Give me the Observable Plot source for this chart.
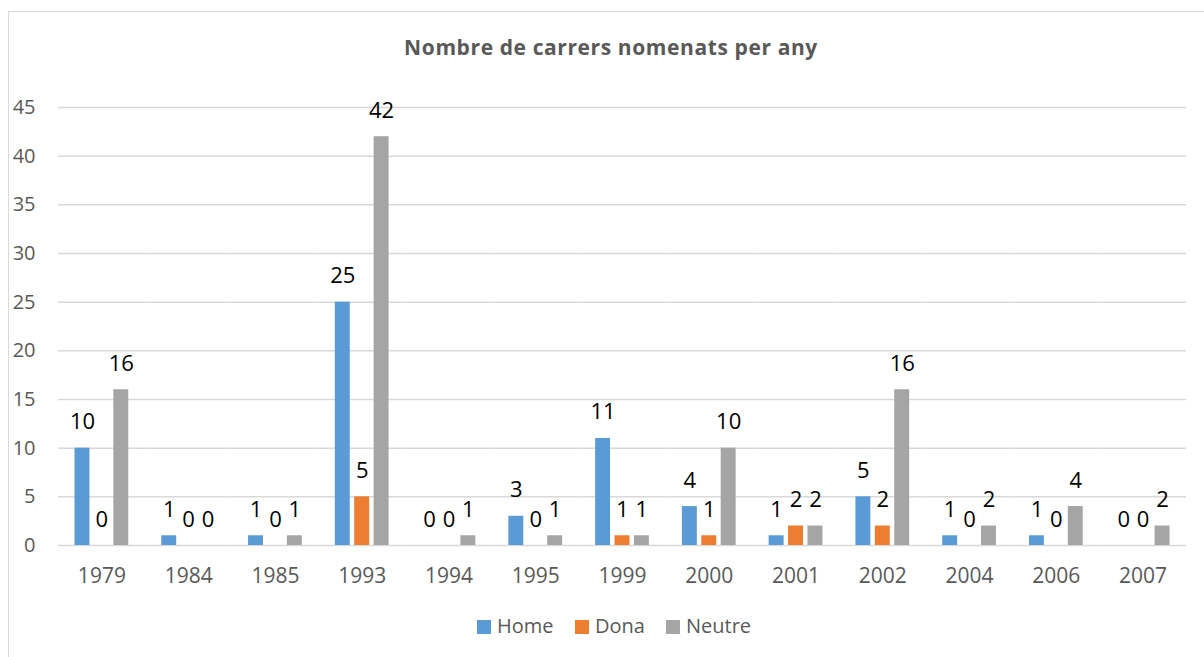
<!DOCTYPE html>
<html>
<head>
<meta charset="utf-8">
<script src="https://cdn.jsdelivr.net/npm/d3@7"></script>
<script src="https://cdn.jsdelivr.net/npm/@observablehq/plot@0.6"></script>
<style>
  body { margin: 0; background: #fff; font-family: "Open Sans", sans-serif; overflow: hidden; }
  #frame { position: absolute; left: 8px; top: 11px; width: 1220px; height: 700px; border: 1.5px solid #d9d9d9; box-sizing: border-box; }
  #title { position: absolute; left: 0; width: 1222px; top: 33px; text-align: center; font-weight: 700; font-size: 21px; letter-spacing: 0.6px; color: #595959; }
  #chart { position: absolute; left: 0; top: 0; }
  #legend { position: absolute; top: 613px; left: 0; width: 1204px; height: 26px; }
  .li { position: absolute; top: 0; font-size: 20px; color: #595959; line-height: 26px; }
  .sw { display: inline-block; width: 14px; height: 14px; margin-right: 6px; vertical-align: -1px; }
</style>
</head>
<body>
<div id="frame"></div>
<div id="title">Nombre de carrers nomenats per any</div>
<div id="chart"></div>
<div id="legend"></div>
<script>
const years = ["1979","1984","1985","1993","1994","1995","1999","2000","2001","2002","2004","2006","2007"];
const home   = [10, 1, 1, 25, 0, 3, 11, 4, 1, 5, 1, 1, 0];
const dona   = [0, 0, 0, 5, 0, 0, 1, 1, 2, 2, 0, 0, 0];
const neutre = [16, 0, 1, 42, 1, 1, 1, 10, 2, 16, 2, 4, 2];
const series = ["Home", "Dona", "Neutre"];
const colors = ["#5B9BD5", "#ED7D31", "#A5A5A5"];
const yTicks = [0, 5, 10, 15, 20, 25, 30, 35, 40, 45];

const rows = [];
years.forEach((yr, i) => {
  rows.push({year: yr, serie: "Home", value: home[i]});
  rows.push({year: yr, serie: "Dona", value: dona[i]});
  rows.push({year: yr, serie: "Neutre", value: neutre[i]});
});

const chart = Plot.plot({
  width: 1204,
  height: 600,
  marginLeft: 58,
  marginRight: 18,
  marginTop: 107,
  marginBottom: 55,
  style: {fontFamily: "Open Sans", fontSize: "20px", color: "#595959", background: "transparent"},
  fx: {domain: years, padding: 0, round: false, axis: null},
  x: {domain: series, paddingInner: 0.23, paddingOuter: 0.85, round: false, axis: null},
  y: {domain: [0, 45], axis: null},
  color: {domain: series, range: colors},
  marks: [
    Plot.gridY(yTicks, {stroke: "#d9d9d9", strokeOpacity: 1, strokeWidth: 1.5}),
    Plot.axisY({ticks: yTicks, tickSize: 0, tickPadding: 23, label: null, fontSize: 20, anchor: "left"}),
    Plot.axisFx({anchor: "bottom", tickSize: 0, tickPadding: 23, label: null, fontSize: 21}),
    Plot.barY(rows, {fx: "year", x: "serie", y: "value", fill: "serie"}),
    Plot.text(rows, {fx: "year", x: "serie", y: "value", text: d => String(d.value), dy: -26, fontSize: 22, fill: "black"})
  ]
});
document.getElementById("chart").appendChild(chart);

const legend = document.getElementById("legend");
const lx = [477, 575, 666];
series.forEach((s, i) => {
  const el = document.createElement("div");
  el.className = "li";
  el.style.left = lx[i] + "px";
  el.innerHTML = `<span class="sw" style="background:${colors[i]}"></span>${s}`;
  legend.appendChild(el);
});
</script>
</body>
</html>
